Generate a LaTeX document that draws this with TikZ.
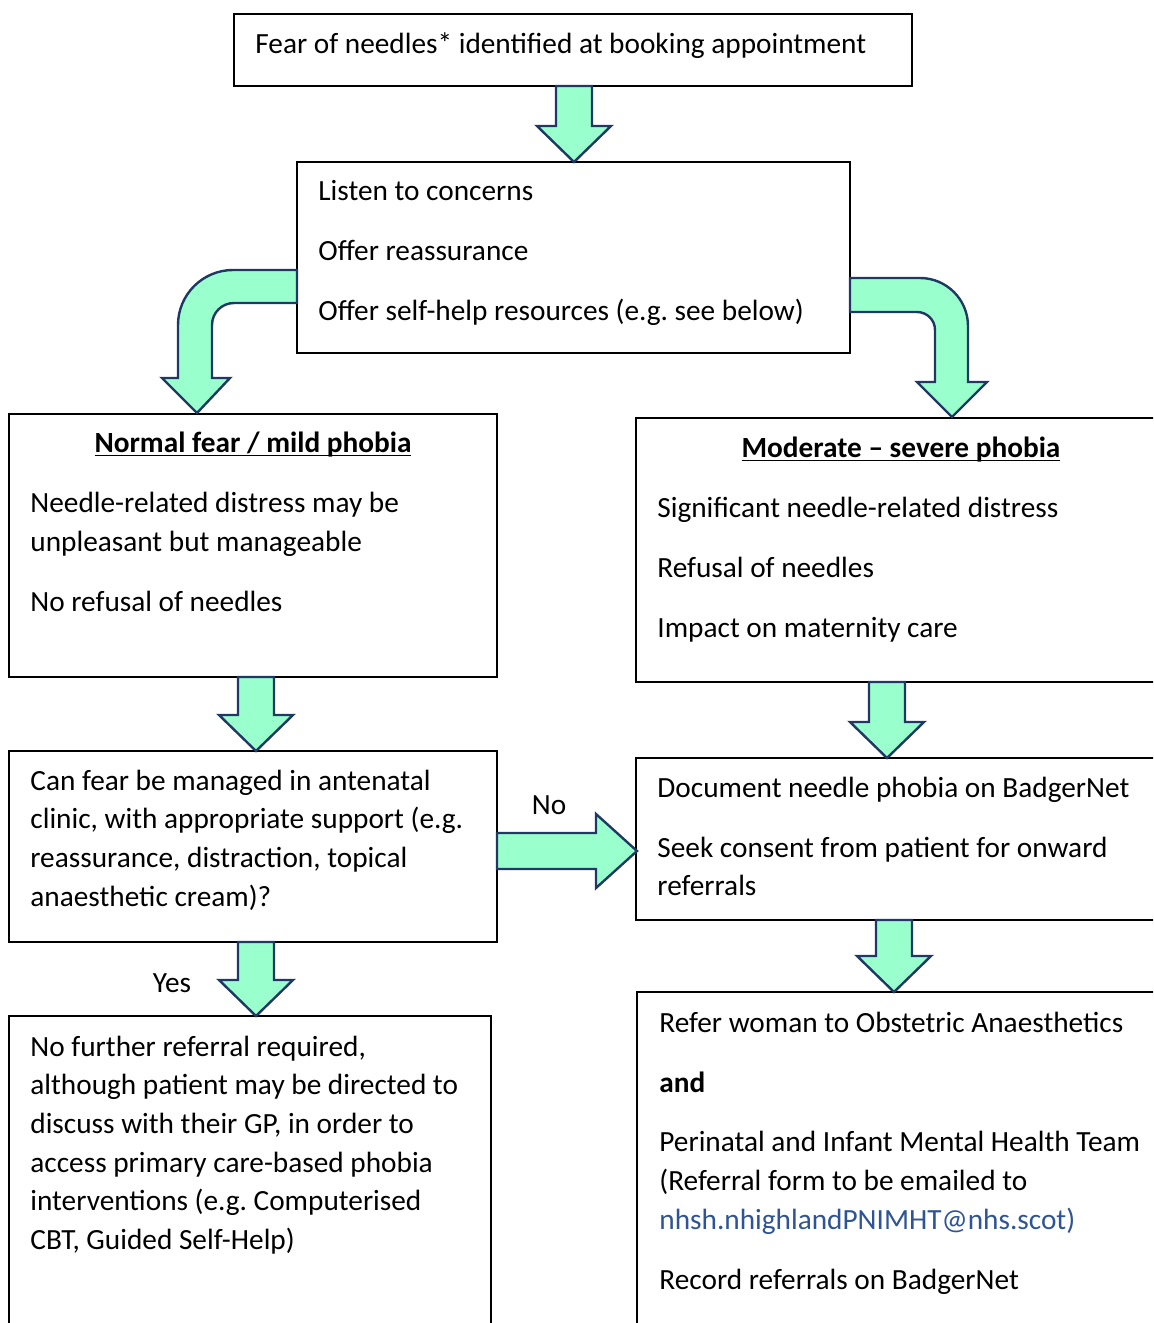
\documentclass[tikz,border=0pt]{standalone}
\usepackage{fontspec}
\setmainfont{Carlito}
\usepackage{xcolor}
\usetikzlibrary{calc}
\definecolor{mint}{HTML}{99FFCC}
\definecolor{navy}{HTML}{1F3864}
\definecolor{linkblue}{HTML}{2F5496}
\frenchspacing
\newcommand{\wordul}[1]{\setbox0\hbox{#1}\rlap{\rule[-2.2pt]{\wd0}{0.9pt}}\box0}
\newcommand{\downblock}[2]{%
  \draw[blockarrow] let \p1=#1, \p2=#2 in
    (\x1-9pt,\y1) -- (\x1-9pt,\y2+18pt) -- (\x1-18.5pt,\y2+18pt) -- (\x1,\y2)
    -- (\x1+18.5pt,\y2+18pt) -- (\x1+9pt,\y2+18pt) -- (\x1+9pt,\y1) -- cycle;}
\newcommand{\rightblock}[2]{%
  \draw[blockarrow] let \p1=#1, \p2=#2 in
    (\x1,\y1+9pt) -- (\x2-20.5pt,\y1+9pt) -- (\x2-20.5pt,\y1+18.5pt) -- (\x2,\y1)
    -- (\x2-20.5pt,\y1-18.5pt) -- (\x2-20.5pt,\y1-9pt) -- (\x1,\y1-9pt) -- cycle;}
\begin{document}
\begin{tikzpicture}[x=0.5pt,y=-0.5pt,
  every node/.style={font=\fontsize{14.65pt}{19.5pt}\selectfont},
  box/.style={draw,line width=1pt,anchor=north west,inner sep=0pt,outer sep=0pt},
  txt/.style={anchor=base west,inner sep=0pt},
  title/.style={anchor=base,inner sep=0pt,font=\fontsize{14.65pt}{19.5pt}\selectfont\bfseries},
  blockarrow/.style={draw=navy,fill=mint,line width=1.2pt,line join=miter}]
	\useasboundingbox (0,0) rectangle (1153,1323);
	\clip (0,0) rectangle (1153,1323);
	\node[box,minimum width=339pt,minimum height=36pt] (fearbox) at (234,14) {};
	\node[txt] (fear) at (255,53) {Fear of needles* identified at booking appointment};
	\node[box,minimum width=276.5pt,minimum height=95.5pt] (listenbox) at (297,162) {};
	\node[txt] (listen) at (318,200) {Listen to concerns};
	\node[txt] (reassure) at (318,260) {Offer reassurance};
	\node[txt] (selfhelp) at (318,320) {Offer self-help resources (e.g. see below)};
	\node[box,minimum width=244pt,minimum height=131.5pt] (mildbox) at (9,414) {};
	\node[title] (mildtitle) at (253,452) {\wordul{Normal fear / mild phobia}};
	\node[txt] (mild1) at (30,512) {Needle-related distress may be};
	\node[txt] (mild2) at (30,551) {unpleasant but manageable};
	\node[txt] (mild3) at (30,611) {No refusal of needles};
	\node[box,minimum width=265pt,minimum height=132pt] (severebox) at (636,418) {};
	\node[title] (severetitle) at (901,457) {\wordul{Moderate -- severe phobia}};
	\node[txt] (severe1) at (657,517) {Significant needle-related distress};
	\node[txt] (severe2) at (657,577) {Refusal of needles};
	\node[txt] (severe3) at (657,637) {Impact on maternity care};
	\node[box,minimum width=244pt,minimum height=95.5pt] (managebox) at (9,751) {};
	\node[txt] (manage1) at (30,790) {Can fear be managed in antenatal};
	\node[txt] (manage2) at (30,828) {clinic, with appropriate support (e.g.};
	\node[txt] (manage3) at (30,867) {reassurance, distraction, topical};
	\node[txt] (manage4) at (30,906) {anaesthetic cream)?};
	\node[box,minimum width=265pt,minimum height=81pt] (documentbox) at (636,758) {};
	\node[txt] (document1) at (657,797) {Document needle phobia on BadgerNet};
	\node[txt] (document2) at (657,857) {Seek consent from patient for onward};
	\node[txt] (document3) at (657,895) {referrals};
	\node[box,minimum width=241pt,minimum height=160pt] (nofurtherbox) at (9,1016) {};
	\node[txt] (nofurther1) at (30,1056) {No further referral required,};
	\node[txt] (nofurther2) at (30,1094) {although patient may be directed to};
	\node[txt] (nofurther3) at (30,1133) {discuss with their GP, in order to};
	\node[txt] (nofurther4) at (30,1172) {access primary care-based phobia};
	\node[txt] (nofurther5) at (30,1210) {interventions (e.g. Computerised};
	\node[txt] (nofurther6) at (30,1249) {CBT, Guided Self-Help)};
	\node[box,minimum width=265pt,minimum height=170pt] (referbox) at (637,992) {};
	\node[txt] (refer1) at (659,1032) {Refer woman to Obstetric Anaesthetics};
	\node[txt,font=\fontsize{14.65pt}{19.5pt}\selectfont\bfseries] (refer2) at (659,1092) {and};
	\node[txt] (refer3) at (659,1151) {Perinatal and Infant Mental Health Team};
	\node[txt] (refer4) at (659,1190) {(Referral form to be emailed to};
	\node[txt,text=linkblue] (refer5) at (659,1229) {nhsh.nhighlandPNIMHT@nhs.scot)};
	\node[txt] (refer6) at (659,1289) {Record referrals on BadgerNet};
	\downblock{($(fearbox.south west)+(340,0)$)}{($(listenbox.north west)+(277,0)$)}
	\downblock{($(mildbox.south west)+(247,0)$)}{($(managebox.north west)+(247,0)$)}
	\downblock{($(severebox.south west)+(251,0)$)}{($(documentbox.north west)+(251,0)$)}
	\downblock{($(managebox.south west)+(247,0)$)}{($(nofurtherbox.north west)+(247,0)$)}
	\downblock{($(documentbox.south west)+(258,0)$)}{($(referbox.north west)+(257,0)$)}
	\rightblock{($(managebox.north east)+(0,100)$)}{($(documentbox.north west)+(1,93)$)}
	\draw[blockarrow] (297,270) -- (233,270) .. controls (202.6,270) and (178,294.6) .. (178,325)
		-- (178,378) -- (162,378) -- (197,413) -- (230,378) -- (212,378) -- (212,325)
		.. controls (212,312.8) and (221.8,303) .. (234,303) -- (297,303) -- cycle;
	\draw[blockarrow] (850,278) -- (920,278) .. controls (946.5,278) and (968,299.5) .. (968,326)
		-- (968,382) -- (987,382) -- (952,417) -- (917,382) -- (935,382) -- (935,330)
		.. controls (935,320) and (927,312) .. (917,312) -- (850,312) -- cycle;
	\node[anchor=base,inner sep=0pt] (nolabel) at (549,814) {No};
	\node[anchor=base,inner sep=0pt] (yeslabel) at (172,992) {Yes};
\end{tikzpicture}
\end{document}
